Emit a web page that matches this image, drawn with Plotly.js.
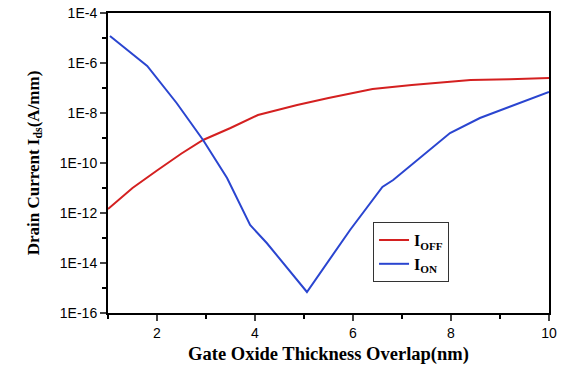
<!DOCTYPE html>
<html><head><meta charset="utf-8">
<script src="https://cdn.plot.ly/plotly-3.0.1.min.js"></script>
<style>html,body{margin:0;padding:0;background:#fff}#c{width:565px;height:365px}</style>
</head><body><div id="c"></div>
<script>
// Gate oxide thickness overlap (nm)
const xOff = [1.0, 1.5, 2.0, 2.5, 2.94, 3.5, 4.06, 4.86, 5.5, 6.4, 7.2, 8.0, 8.4, 9.2, 10.0];
const logOff = [-11.84, -11.0, -10.3, -9.62, -9.08, -8.6, -8.08, -7.68, -7.4, -7.04, -6.88, -6.76, -6.68, -6.65, -6.6];
const xOn = [1.04, 1.8, 2.4, 2.94, 3.43, 3.9, 4.24, 5.06, 5.94, 6.6, 6.82, 7.98, 8.59, 10.0];
const logOn = [-4.92, -6.12, -7.6, -9.08, -10.6, -12.48, -13.2, -15.16, -12.68, -10.96, -10.68, -8.8, -8.2, -7.16];
const yTickVals = [1e-16, 1e-14, 1e-12, 1e-10, 1e-8, 1e-6, 1e-4];
const yTickText = ["1E-16", "1E-14", "1E-12", "1E-10", "1E-8", "1E-6", "1E-4"];
const yMinorVals = [1e-15, 1e-13, 1e-11, 1e-9, 1e-7, 1e-5];
const seriesNames = ["I<sub>OFF</sub>", "I<sub>ON</sub>"];

const pow = a => a.map(v => Math.pow(10, v));
const traces = [
  {x: xOff, y: pow(logOff), mode: 'lines', name: seriesNames[0], line: {color: '#d42020', width: 2}},
  {x: xOn, y: pow(logOn), mode: 'lines', name: seriesNames[1], line: {color: '#2a45d0', width: 2}}
];
const layout = {
  width: 565, height: 365,
  margin: {l: 108, r: 16, t: 13, b: 52},
  paper_bgcolor: '#fff', plot_bgcolor: '#fff',
  showlegend: true,
  legend: {x: 0.601, y: 0.303, xanchor: 'left', yanchor: 'top', bordercolor: '#333', borderwidth: 1,
    bgcolor: '#fff', font: {family: 'Liberation Serif', size: 16, color: '#000', weight: 'bold'},
    tracegroupgap: 0},
  xaxis: {
    range: [1, 10], tickvals: [2, 4, 6, 8, 10], ticks: 'outside', ticklen: 6, tickwidth: 2,
    showline: true, linewidth: 2, linecolor: '#000', mirror: true, showgrid: false, zeroline: false,
    tickfont: {family: 'Liberation Sans', size: 14, color: '#000'},
    minor: {tickvals: [1, 3, 5, 7, 9], ticks: 'outside', ticklen: 4, tickwidth: 2, tickcolor: '#000', showgrid: false},
    title: {text: 'Gate Oxide Thickness Overlap(nm)', standoff: 8,
      font: {family: 'Liberation Serif', size: 18.5, color: '#000', weight: 'bold'}}
  },
  yaxis: {
    type: 'log', range: [-16, -4], tickvals: yTickVals, ticktext: yTickText, ticks: 'outside', ticklen: 6, tickwidth: 2,
    showline: true, linewidth: 2, linecolor: '#000', mirror: true, showgrid: false, zeroline: false,
    tickfont: {family: 'Liberation Sans', size: 14, color: '#000'},
    minor: {tickvals: yMinorVals, ticks: 'outside', ticklen: 4, tickwidth: 2, tickcolor: '#000', showgrid: false},
    title: {text: 'Drain Current I<sub>ds</sub>(A/mm)', standoff: 16,
      font: {family: 'Liberation Serif', size: 17, color: '#000', weight: 'bold'}}
  }
};
Plotly.newPlot('c', traces, layout, {displayModeBar: false, staticPlot: true});
</script>
</body></html>
